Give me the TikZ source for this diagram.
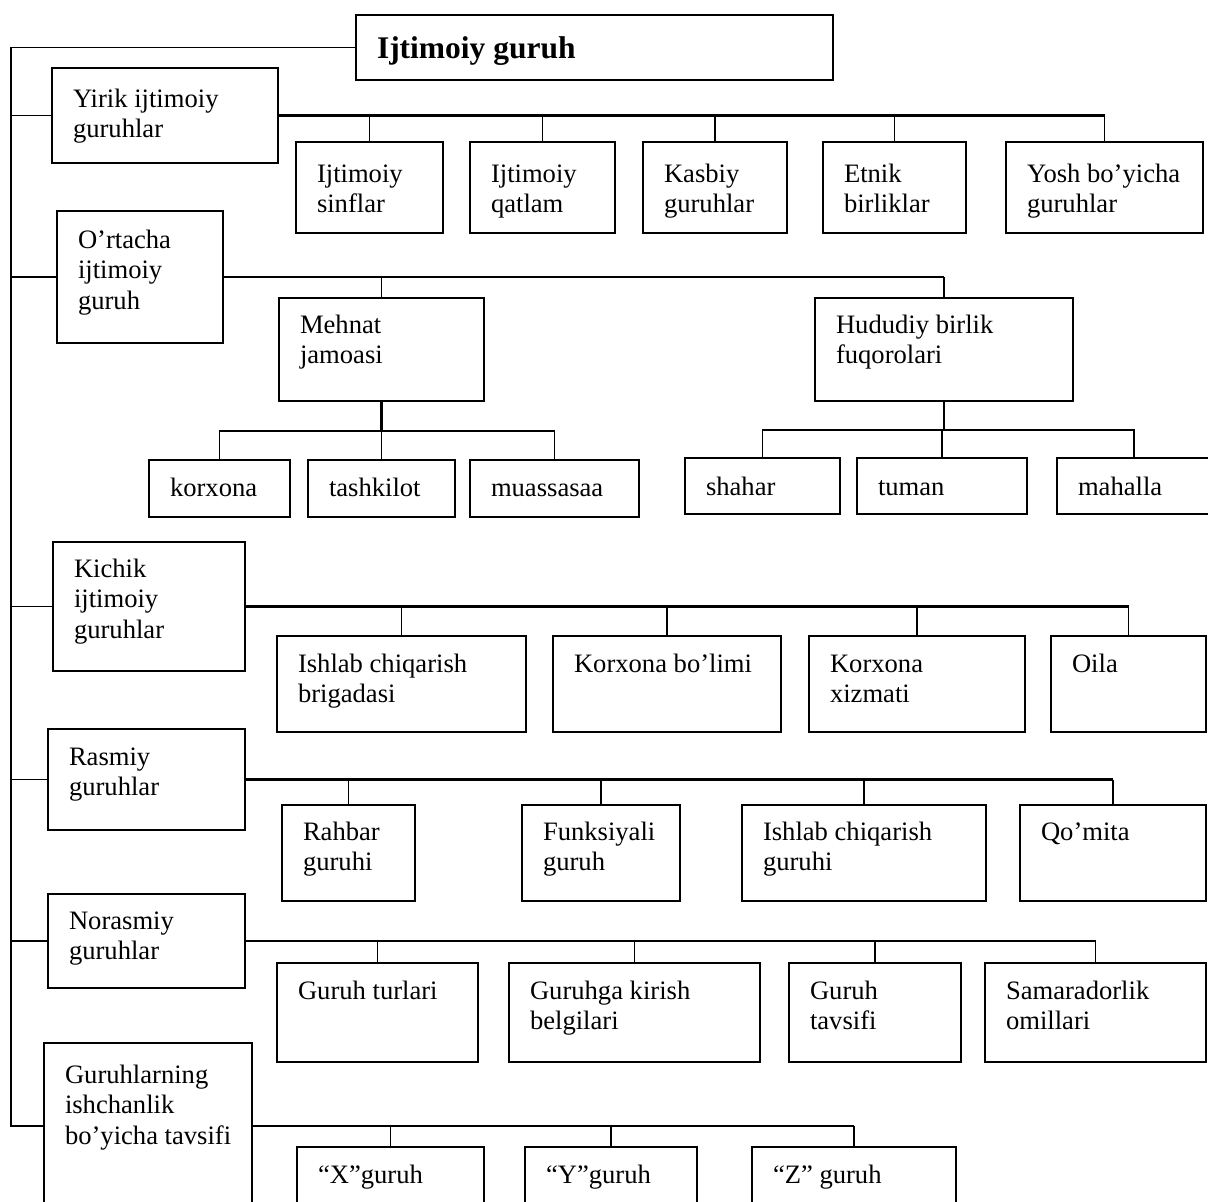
\documentclass[tikz,border=0pt]{standalone}
\usepackage{fontspec}
\setmainfont{Liberation Serif}
\tikzset{
  box/.style={draw, line width=1.5pt, inner sep=0pt, outer sep=0pt, rectangle},
  txt/.style={inner sep=0pt, outer sep=0pt, align=left, font=\fontsize{26.6}{30.5}\selectfont},
  ttl/.style={inner sep=0pt, outer sep=0pt, align=left, font=\fontsize{31.5}{36}\selectfont\bfseries},
  conn/.style={line width=1.5pt},
  trunk/.style={line width=2.4pt},
}
\newcommand\gbox[7]{%
  \node[box, anchor=north west, minimum width={(#4-#2)*1pt}, minimum height={(#5-#3)*1pt}] (#1) at (#2,#3) {};
  \node[txt, anchor=north west] (#1t) at ({#2+21},{#3+#6-21.35}) {\strut#7};
}
\begin{document}
\begin{tikzpicture}[x=1pt,y=-1pt]
\useasboundingbox (0,0) rectangle (1208,1202);
\clip (0,0) rectangle (1208,1202);

% title
\node[box, anchor=north west, minimum width=477pt, minimum height=65pt] (main) at (356,15) {};
\node[ttl, anchor=north west] (maint) at (377,32.8) {\strut Ijtimoiy guruh};

% row 1
\gbox{g1}{52}{68}{278}{163}{39}{Yirik ijtimoiy\\guruhlar}
\gbox{c11}{296}{142}{443}{233}{40}{Ijtimoiy\\sinflar}
\gbox{c12}{470}{142}{615}{233}{40}{Ijtimoiy\\qatlam}
\gbox{c13}{643}{142}{787}{233}{40}{Kasbiy\\guruhlar}
\gbox{c14}{823}{142}{966}{233}{40}{Etnik\\birliklar}
\gbox{c15}{1006}{142}{1203}{233}{40}{Yosh bo’yicha\\guruhlar}

% row 2
\gbox{g2}{57}{211}{223}{343}{37}{O’rtacha\\ijtimoiy\\guruh}
\gbox{m}{279}{298}{484}{401}{35}{Mehnat\\jamoasi}
\gbox{h}{815}{298}{1073}{401}{35}{Hududiy birlik\\fuqorolari}
\gbox{m1}{149}{460}{290}{517}{36}{korxona}
\gbox{m2}{308}{460}{455}{517}{36}{tashkilot}
\gbox{m3}{470}{460}{639}{517}{36}{muassasaa}
\gbox{h1}{685}{458}{840}{514}{37}{shahar}
\gbox{h2}{857}{458}{1027}{514}{37}{tuman}
\gbox{h3}{1057}{458}{1211}{514}{37}{mahalla}

% row 3
\gbox{g3}{53}{542}{245}{671}{35}{Kichik\\ijtimoiy\\guruhlar}
\gbox{c31}{277}{636}{526}{732}{36}{Ishlab chiqarish\\brigadasi}
\gbox{c32}{553}{636}{781}{732}{36}{Korxona bo’limi}
\gbox{c33}{809}{636}{1025}{732}{36}{Korxona\\xizmati}
\gbox{c34}{1051}{636}{1206}{732}{36}{Oila}

% row 4
\gbox{g4}{48}{729}{245}{830}{36}{Rasmiy\\guruhlar}
\gbox{c41}{282}{805}{415}{901}{35}{Rahbar\\guruhi}
\gbox{c42}{522}{805}{680}{901}{35}{Funksiyali\\guruh}
\gbox{c43}{742}{805}{986}{901}{35}{Ishlab chiqarish\\guruhi}
\gbox{c44}{1020}{805}{1206}{901}{35}{Qo’mita}

% row 5
\gbox{g5}{48}{894}{245}{988}{35}{Norasmiy\\guruhlar}
\gbox{c51}{277}{963}{478}{1062}{36}{Guruh turlari}
\gbox{c52}{509}{963}{760}{1062}{36}{Guruhga kirish\\belgilari}
\gbox{c53}{789}{963}{961}{1062}{36}{Guruh\\tavsifi}
\gbox{c54}{985}{963}{1206}{1062}{36}{Samaradorlik\\omillari}

% row 6
\gbox{g6}{44}{1043}{252}{1215}{40}{Guruhlarning\\ishchanlik\\bo’yicha tavsifi}
\gbox{c61}{297}{1147}{484}{1215}{36}{“X”guruh}
\gbox{c62}{525}{1147}{697}{1215}{36}{“Y”guruh}
\gbox{c63}{752}{1147}{956}{1215}{36}{“Z” guruh}

% spine
\coordinate (b6) at (11,1126);
\draw[conn] (main.west) -| (b6) -- (b6 -| g6.west);
\foreach \g in {g1,g2,g3,g4,g5} \draw[conn] (\g.west -| b6) -- (\g.west);

% row 1 connectors
\draw[trunk] (g1.east) -- (g1.east -| c15.north);
\foreach \c in {c11,c12,c13,c14,c15} \draw[conn] (\c.north) -- (\c.north |- g1.east);

% row 2 connectors
\draw[trunk] (g2.east) -- (g2.east -| h.north);
\foreach \c in {m,h} \draw[conn] (\c.north) -- (\c.north |- g2.east);
\path (m.south) ++(0,30) coordinate (mbar);
\draw[trunk] (m.south) -- (mbar);
\draw[conn] (m1.north) |- (mbar) -| (m3.north);
\draw[conn] (m2.north) -- (m2.north |- mbar);
\path (h.south) ++(0,29) coordinate (hbar);
\draw[trunk] (h.south) -- (hbar);
\draw[conn] (h1.north) |- (hbar) -| (h3.north);
\draw[conn] (h2.north) -- (h2.north |- hbar);

% row 3 connectors
\draw[trunk] (g3.east) -- (g3.east -| c34.north);
\foreach \c in {c31,c32,c33,c34} \draw[conn] (\c.north) -- (\c.north |- g3.east);

% row 4 connectors
\draw[trunk] (g4.east) -- (g4.east -| c44.north);
\foreach \c in {c41,c42,c43,c44} \draw[conn] (\c.north) -- (\c.north |- g4.east);

% row 5 connectors
\draw[trunk] (g5.east) -- (g5.east -| c54.north);
\foreach \c in {c51,c52,c53,c54} \draw[conn] (\c.north) -- (\c.north |- g5.east);

% row 6 connectors
\draw[trunk] (b6 -| g6.east) -- (b6 -| c63.north);
\foreach \c in {c61,c62,c63} \draw[conn] (\c.north) -- (\c.north |- b6);
\end{tikzpicture}
\end{document}
